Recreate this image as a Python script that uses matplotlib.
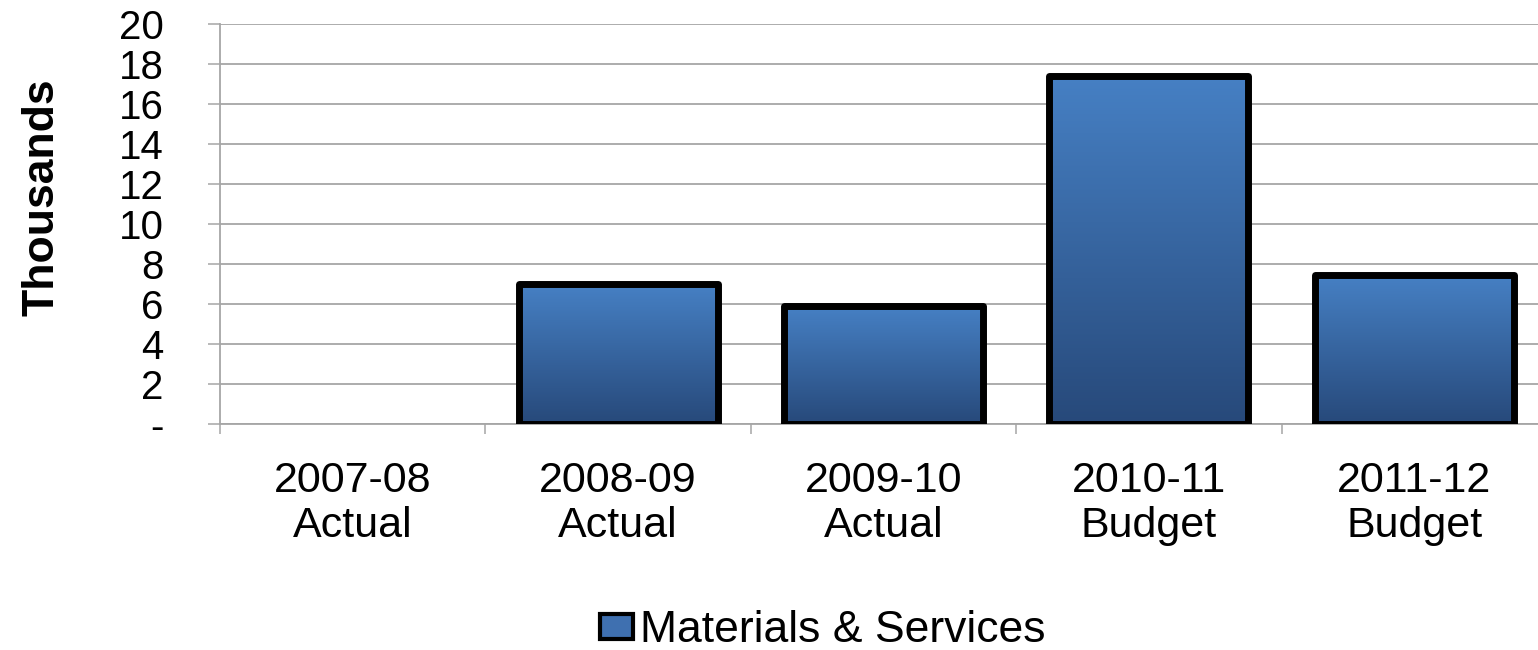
import numpy as np
import matplotlib
matplotlib.use("Agg")
import matplotlib.pyplot as plt
from matplotlib.colors import LinearSegmentedColormap
from matplotlib.patches import Patch

# data (thousands)
years = ["2007-08", "2008-09", "2009-10", "2010-11", "2011-12"]
kinds = ["Actual", "Actual", "Actual", "Budget", "Budget"]
values = [0.0, 7.0, 5.9, 17.4, 7.45]
y_ticks = [0, 2, 4, 6, 8, 10, 12, 14, 16, 18, 20]
y_tick_labels = ["-", "2", "4", "6", "8", "10", "12", "14", "16", "18", "20"]
series_name = "Materials & Services"

plt.rcParams["font.family"] = ["Liberation Sans", "DejaVu Sans"]

fig = plt.figure(figsize=(15.38, 6.5), dpi=100)
ax = fig.add_axes([0.143, 0.348, 0.8628, 0.615])

grid_col = "#a6a6a6"
cmap = LinearSegmentedColormap.from_list("bluegrad", ["#27497a", "#4680c4"])
grad = np.linspace(0, 1, 256).reshape(-1, 1)

x = np.arange(len(years))
bars = ax.bar(x, values, width=0.75, facecolor="none", edgecolor="black",
              linewidth=5, joinstyle="round", zorder=3)
for b, v in zip(bars, values):
    if v <= 0:
        b.set_visible(False)
        continue
    x0 = b.get_x()
    im = ax.imshow(grad, extent=[x0, x0 + b.get_width(), 0, v], origin="lower",
                   aspect="auto", cmap=cmap, zorder=2)
    im.set_clip_path(b)

ax.set_xlim(-0.5, 4.5)
ax.set_ylim(0, 20)

ax.set_yticks(y_ticks)
ax.set_yticklabels(y_tick_labels, fontsize=29)
ax.yaxis.grid(True, color=grid_col, linewidth=1.3, zorder=0)
ax.set_axisbelow(True)
ax.tick_params(axis="y", direction="out", length=8.5, width=1.1, color=grid_col, pad=32)

ax.set_xticks(x)
ax.set_xticklabels([f"{a}\n{b}" for a, b in zip(years, kinds)], fontsize=31, linespacing=1.15)
ax.tick_params(axis="x", which="major", length=0, pad=27)
ax.set_xticks(np.arange(-0.5, 5.0, 1.0), minor=True)
ax.tick_params(axis="x", which="minor", direction="out", length=7.5, width=1.1, color=grid_col)

for s in ["top", "right"]:
    ax.spines[s].set_visible(False)
for s in ["left", "bottom"]:
    ax.spines[s].set_color(grid_col)
    ax.spines[s].set_linewidth(1.3)

ax.set_ylabel("Thousands", fontsize=32, fontweight="bold")
ax.yaxis.set_label_coords(-0.119, 0.5675)

handle = Patch(facecolor="#3f70b0", edgecolor="black", linewidth=3)
fig.legend(handles=[handle], labels=[series_name], loc="center",
           bbox_to_anchor=(0.535, 0.03), frameon=False, fontsize=32,
           handlelength=0.75, handleheight=0.5, handletextpad=0.15,
           borderpad=0.1)

fig.savefig("out.png", dpi=100)
